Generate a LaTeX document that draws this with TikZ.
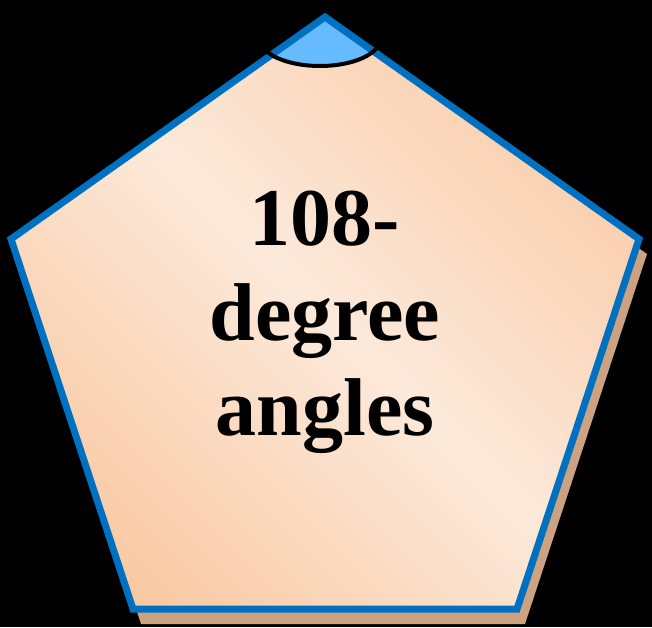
\documentclass[tikz,border=0pt]{standalone}
\usepackage{fontspec}
\setmainfont{Liberation Serif}
\usepackage{tikz}
\usetikzlibrary{shadings}
\definecolor{peachdark}{RGB}{249,198,158}
\definecolor{peachlight}{RGB}{252,233,218}
\definecolor{shadowtan}{RGB}{204,162,128}
\definecolor{edgeblue}{RGB}{0,112,192}
\definecolor{markblue}{RGB}{102,187,255}
\pgfdeclarehorizontalshading{peachfill}{100bp}{color(0bp)=(peachdark); color(20bp)=(peachdark); color(50bp)=(peachlight); color(82bp)=(peachdark); color(100bp)=(peachdark)}
\tikzstyle{pentagon} = [insert path={(325,17) -- (639,239) -- (517,609) -- (133,609) -- (11,239) -- cycle}]
\tikzstyle{edge} = [draw=edgeblue, line width=7pt, line join=miter]
\tikzstyle{label} = [align=center, font=\fontsize{82}{95}\selectfont\bfseries, text=black, inner sep=0pt]

\begin{document}
\begin{tikzpicture}[x=1pt,y=-1pt]

\fill[black] (0,0) rectangle (652,627);
\useasboundingbox (0,0) rectangle (652,627);

% shadow, face, marker
\fill[shadowtan, shift={(8,15)}, pentagon];
\shade[shading=peachfill, shading angle=45, pentagon];
\begin{scope}
\clip[pentagon];
\fill[markblue] (320,39) ellipse [x radius=60, y radius=27];
\end{scope}
\draw[edge, pentagon];

% angle ring
\draw[black, line width=0.8pt] (320,39) ellipse [x radius=60, y radius=27];
\draw[black, line width=4pt] (260,39) arc [start angle=180, end angle=0, x radius=60, y radius=27];

\node (angles) [label, anchor=base] at (325,435) {108-\\degree\\angles};

\end{tikzpicture}
\end{document}
